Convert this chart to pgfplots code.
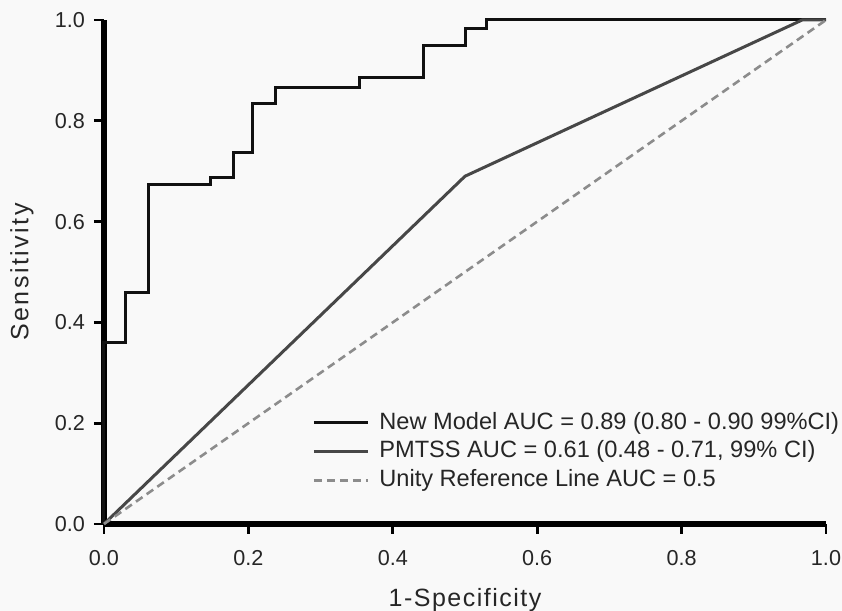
\documentclass[border=0pt]{standalone}
\usepackage{fontspec}
\setmainfont{Liberation Sans}
\usepackage{pgfplots}
\pgfplotsset{compat=1.18}
\definecolor{bgc}{HTML}{F9F9F9}
\definecolor{newc}{HTML}{111111}
\definecolor{pmc}{HTML}{474747}
\definecolor{refc}{HTML}{8C8C8C}
\begin{document}
\begin{tikzpicture}
\fill[bgc] (-52pt,-43.5pt) rectangle (369pt,262pt);
\begin{axis}[
  scale only axis,
  width=361pt, height=252pt,
  xmin=0, xmax=1, ymin=0, ymax=1,
  clip=false,
  axis x line*=bottom, axis y line*=left,
  axis line style={line width=3pt, black, -},
  tick align=outside,
  major tick length=5pt,
  tick style={line width=1.4pt, black},
  xtick={0,0.2,0.4,0.6,0.8,1.0},
  ytick={0,0.2,0.4,0.6,0.8,1.0},
  /pgf/number format/assume math mode=true,
  /pgf/number format/fixed, /pgf/number format/fixed zerofill,
  /pgf/number format/precision=1,
  ticklabel style={font=\fontsize{10.8pt}{12pt}\selectfont, color=black!85},
  xticklabel style={yshift=-4.5pt},
  yticklabel style={xshift=-1pt},
  xlabel={\addfontfeatures{LetterSpace=6}1-Specificity},
  ylabel={\addfontfeatures{LetterSpace=10}Sensitivity},
  label style={font=\fontsize{12.5pt}{14pt}\selectfont, color=black!85},
  xlabel style={at={(axis description cs:0.5,-0.163)}, anchor=base},
  ylabel style={at={(axis description cs:-0.1136,0.5)}, anchor=center},
  legend style={draw=none, fill=none, at={(0.288,0.226)}, anchor=north west,
    inner sep=0pt, row sep=2pt,
    font=\fontsize{11.8pt}{14pt}\selectfont,
    nodes={text height=8.8pt, text depth=2.6pt, inner sep=0.5pt, text=black!85},
    /tikz/every odd column/.append style={column sep=4.5pt}},
  legend cell align=left,
  legend image code/.code={\draw[#1] (0cm,0cm) -- (0.95cm,0cm);},
]
\addplot[newc, line width=1.5pt] coordinates {
(0,0) (0,0.36) (0.03,0.36) (0.03,0.46) (0.061,0.46) (0.061,0.673)
(0.148,0.673) (0.148,0.688) (0.179,0.688) (0.179,0.738) (0.206,0.738)
(0.206,0.835) (0.237,0.835) (0.237,0.867) (0.354,0.867) (0.354,0.885)
(0.442,0.885) (0.442,0.95) (0.501,0.95) (0.501,0.984) (0.53,0.984)
(0.53,1) (1,1)};
\addlegendentry{New Model AUC = 0.89 (0.80 - 0.90 99\%CI)}
\addplot[pmc, line width=1.5pt] coordinates {(0,0) (0.5,0.69) (0.967,1) (1,1)};
\addlegendentry{PMTSS AUC = 0.61 (0.48 - 0.71, 99\% CI)}
\addplot[refc, line width=1.3pt, dash pattern=on 4pt off 2.5pt] coordinates {(0,0) (1,1)};
\addlegendentry{Unity Reference Line AUC = 0.5}
\end{axis}
\pgfresetboundingbox
\path[use as bounding box] (-52pt,-43.5pt) rectangle (369pt,262pt);
\end{tikzpicture}
\end{document}
